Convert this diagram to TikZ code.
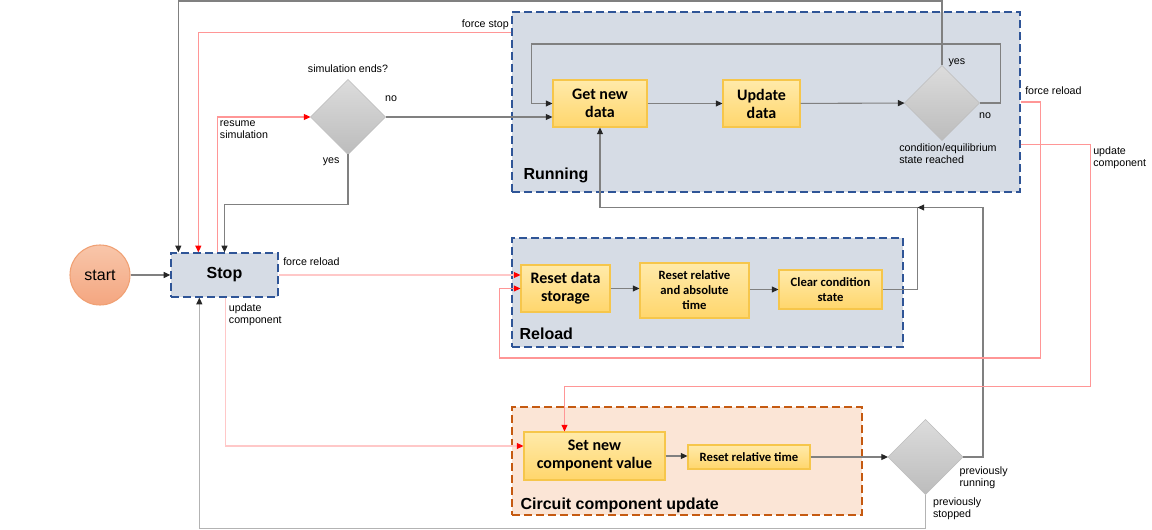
\documentclass[tikz,border=0pt]{standalone}
\usepackage{fontspec}
\setmainfont{Liberation Sans}
\newfontfamily\boxfont{Carlito}
\usepackage{xcolor}
\definecolor{groupblue}{RGB}{214,220,229}
\definecolor{borderblue}{RGB}{47,85,151}
\definecolor{grouporange}{RGB}{251,229,214}
\definecolor{borderorange}{RGB}{197,90,17}
\definecolor{boxtop}{RGB}{255,234,170}
\definecolor{boxbottom}{RGB}{255,214,108}
\definecolor{boxborder}{RGB}{246,198,75}
\definecolor{decisiontop}{RGB}{220,220,220}
\definecolor{decisionbottom}{RGB}{188,188,188}
\definecolor{starttop}{RGB}{248,198,170}
\definecolor{startbottom}{RGB}{244,166,128}
\definecolor{startborder}{RGB}{240,160,115}
\definecolor{linegray}{RGB}{128,128,128}
\definecolor{linered}{RGB}{255,150,150}
\definecolor{linepink}{RGB}{255,200,200}
\definecolor{tipred}{RGB}{255,0,0}
\definecolor{tipdark}{RGB}{38,38,38}
\usepackage{tikz}
\usetikzlibrary{calc}
\usetikzlibrary{shapes.geometric}
\usetikzlibrary{arrows.meta}
\newcommand{\boxheight}{35.25pt}
\newcommand{\decisionsize}{56.25pt}
\newcommand{\bigtext}{\fontsize{12}{13.5}\selectfont}
\newcommand{\smalltext}{\fontsize{9.5}{11.25}\selectfont}
\tikzset{
    common/.style={draw, rectangle, inner sep=2pt, align=center},
    group/.style={common, dash pattern=on 6pt off 3pt, line width=1pt, fill=groupblue, draw=borderblue},
    title/.style={anchor=base west, inner sep=0pt, font=\bfseries\bigtext},
    stepbox/.style={common, minimum height=\boxheight, top color=boxtop, bottom color=boxbottom, draw=boxborder, line width=0.8pt, font=\boxfont\bfseries\bigtext},
    stepsmall/.style={stepbox, font=\boxfont\bfseries\smalltext},
    decision/.style={diamond, minimum width=\decisionsize, minimum height=\decisionsize, inner sep=0pt, outer sep=0pt, top color=decisiontop, bottom color=decisionbottom, draw=decisionbottom, line width=0.5pt},
    start/.style={circle, minimum size=45pt, inner sep=0pt, top color=starttop, bottom color=startbottom, draw=startborder, line width=0.8pt, font=\bigtext},
    note/.style={inner sep=1pt, align=left, font=\fontsize{8}{9}\selectfont},
    flow/.style={draw=linegray, line width=0.8pt, -{Triangle[length=5pt, width=4.5pt, color=tipdark]}},
    forced/.style={draw=linered, line width=0.8pt, -{Triangle[length=5pt, width=4.5pt, color=tipred]}},
    forcedlight/.style={forced, draw=linepink}
}

\begin{document}
\begin{tikzpicture}[x=0.75pt, y=-0.75pt]
    \useasboundingbox (0,0) rectangle (1152,530);

    % groups
    \node[group, minimum width=381pt, minimum height=135pt] (running) at (766,102) {};
    \node[group, minimum width=293.25pt, minimum height=81.75pt] (reload) at (707.5,292.5) {};
    \node[group, fill=grouporange, draw=borderorange, minimum width=262.5pt, minimum height=81pt] (circuit) at (687,461) {};
    \node[title] (running-title) at ($(running.south west)+(12,-13)$) {Running};
    \node[title] (reload-title) at ($(reload.south west)+(8,-8)$) {Reload};
    \node[title] (circuit-title) at ($(circuit.south west)+(9,-6)$) {Circuit component update};

    % states
    \node[start] (start) at (100,275) {start};
    \node[group, font=\bfseries\bigtext, minimum width=80.25pt, minimum height=33pt] (stop) at (224.5,275) {Stop};
    \node[decision] (sim) at (348,117) {};
    \node[stepbox, minimum width=70.5pt] (getdata) at (600,103.5) {Get new\\data};
    \node[stepbox, minimum width=57.75pt] (update) at (761.5,103.5) {Update\\data};
    \node[decision] (cond) at (942,103) {};
    \node[stepbox, minimum width=66.75pt] (resetdata) at (565.5,288.5) {Reset data\\storage};
    \node[stepsmall, minimum width=81.75pt, minimum height=41.25pt] (resetrel) at (694.5,290.5) {Reset relative\\and absolute\\time};
    \node[stepsmall, minimum width=77.25pt, minimum height=29.25pt] (clearcond) at (830.5,289.5) {Clear condition\\state};
    \node[stepbox, minimum width=105.75pt, minimum height=36pt] (setnew) at (594.5,456) {Set new\\component value};
    \node[stepsmall, minimum width=91.5pt, minimum height=18pt] (resetreltime) at (749,457) {Reset relative time};
    \node[decision] (prev) at (925.5,457) {};

    % entry points on Stop
    \coordinate (stop-a) at ($(stop.north west)+(8,0)$);
    \coordinate (stop-b) at ($(stop.north west)+(28,0)$);
    \coordinate (stop-c) at ($(stop.north west)+(47,0)$);
    \coordinate (stop-e) at ($(stop.south west)+(29,0)$);
    \coordinate (stop-f) at ($(stop.south west)+(55,0)$);
    \coordinate (stop-exit) at ($(running.north west)+(0,21)$);

    % decision labels
    \node[note, anchor=south] (sim-label) at ($(sim.north)+(0,-5)$) {simulation ends?};
    \node[note, anchor=west] (sim-no) at ($(sim.east)+(-2,-18)$) {no};
    \node[note, anchor=east] (sim-yes) at ($(sim.south)+(-7,7)$) {yes};
    \node[note, anchor=west] (cond-yes) at ($(cond.north)+(5,-3)$) {yes};
    \node[note, anchor=west] (cond-no) at ($(cond.east)+(-2,13)$) {no};
    \node[note, anchor=north] (cond-label) at ($(cond.south)+(6,2)$) {condition/equilibrium\\state reached};
    \node[note, anchor=north west] (prev-running) at ($(prev.east)+(-5,8)$) {previously\\running};
    \node[note, anchor=north west] (prev-stopped) at ($(prev.south)+(6,2)$) {previously\\stopped};

    % normal flow
    \draw[flow] (start) -- (stop);
    \draw[flow] (sim.east) -- (getdata.west |- sim.east);
    \draw[flow] (sim.south) -- ++(0,50) -| (stop.north);
    \draw[flow] (getdata) -- (update);
    \draw[flow] (update) -- (cond);
    \draw[flow] (cond.east) -- ++(21,0) -- ++(0,-59) -| ($(getdata.west)+(-21,0)$) -- (getdata.west);
    \draw[flow] (cond.north) -- ++(0,-64.5) -| (stop-a);
    \draw[flow] (resetdata.east) -- (resetrel.west |- resetdata.east);
    \draw[flow] (resetrel.east |- clearcond.west) -- (clearcond.west);
    \draw[flow] (clearcond.east) -| ++(35,-82) coordinate (join) -| (getdata.south);
    \draw[flow] (setnew.east) -- (resetreltime.west |- setnew.east);
    \draw[flow] (resetreltime.east) -- (prev.west);
    \draw[flow] (prev.east) -- ++(20,0) |- (join);
    \draw[flow, draw=linegray!60] (prev.south) -- ++(0,34) -| (stop-e);

    % forced transitions
    \draw[forced] (stop-exit) -| (stop-b);
    \node[note, anchor=base east] (force-stop) at ($(stop-exit)+(-1,-5)$) {force stop};
    \draw[forced] (stop-c) |- (sim.west);
    \node[note, anchor=north west] (resume) at ($(stop-c |- sim.west)+(1,2)$) {resume\\simulation};
    \draw[forcedlight] (stop.east) -- (resetdata.west |- stop.east);
    \node[note, anchor=base west] (stop-reload) at ($(stop.east)+(3,-9)$) {force reload};
    \draw[forcedlight] (stop-f) |- ($(setnew.west)+(0,-10)$);
    \node[note, anchor=north west] (stop-update) at ($(stop-f)+(2,5)$) {update\\component};
    \draw[forced] (running.east) -- ++(20,0) -- ++(0,256) -| ($(resetdata.west)+(-21,0)$) -- (resetdata.west);
    \node[note, anchor=base west] (running-reload) at ($(running.east)+(3,-7)$) {force reload};
    \draw[forced] ($(running.south east)+(0,-48)$) -- ++(70,0) coordinate (update-corner) -- ++(0,242) -| ($(setnew.north)+(-30,0)$);
    \node[note, anchor=north west] (running-update) at ($(update-corner)+(1,1)$) {update\\component};
\end{tikzpicture}
\end{document}
